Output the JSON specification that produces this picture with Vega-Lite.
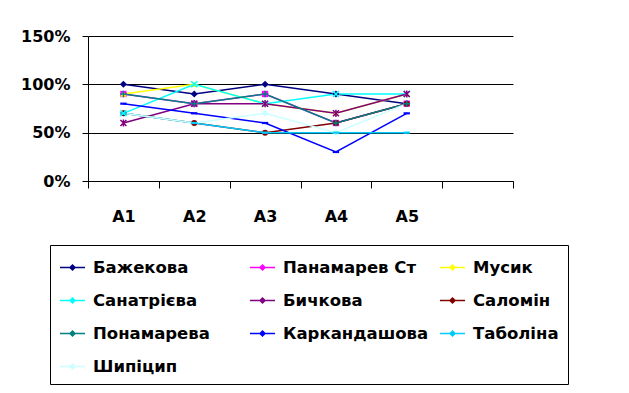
{
  "$schema": "https://vega.github.io/schema/vega-lite/v6.json",
  "autosize": "none",
  "width": 425,
  "height": 145,
  "padding": {"left": 88, "top": 36, "right": 116, "bottom": 212},
  "background": "white",
  "config": {
    "font": "DejaVu Sans",
    "view": {"stroke": null},
    "axis": {"labelFont": "DejaVu Sans", "labelFontWeight": "bold", "labelFontSize": 16, "labelColor": "black", "domainColor": "black", "tickColor": "black", "gridColor": "black", "gridOpacity": 1, "domainWidth": 1, "tickWidth": 1, "gridWidth": 1}
  },
  "data": {"values": [
    {"s": "Бажекова", "a": "A1", "v": 1.0}, {"s": "Бажекова", "a": "A2", "v": 0.9}, {"s": "Бажекова", "a": "A3", "v": 1.0}, {"s": "Бажекова", "a": "A4", "v": 0.9}, {"s": "Бажекова", "a": "A5", "v": 0.8},
    {"s": "Панамарев Ст", "a": "A1", "v": 0.9}, {"s": "Панамарев Ст", "a": "A2", "v": 0.8}, {"s": "Панамарев Ст", "a": "A3", "v": 0.9}, {"s": "Панамарев Ст", "a": "A4", "v": 0.6}, {"s": "Панамарев Ст", "a": "A5", "v": 0.8},
    {"s": "Мусик", "a": "A1", "v": 0.9}, {"s": "Мусик", "a": "A2", "v": 1.0}, {"s": "Мусик", "a": "A3", "v": 0.8}, {"s": "Мусик", "a": "A4", "v": 0.7}, {"s": "Мусик", "a": "A5", "v": 0.9},
    {"s": "Санатрієва", "a": "A1", "v": 0.7}, {"s": "Санатрієва", "a": "A2", "v": 1.0}, {"s": "Санатрієва", "a": "A3", "v": 0.8}, {"s": "Санатрієва", "a": "A4", "v": 0.9}, {"s": "Санатрієва", "a": "A5", "v": 0.9},
    {"s": "Бичкова", "a": "A1", "v": 0.6}, {"s": "Бичкова", "a": "A2", "v": 0.8}, {"s": "Бичкова", "a": "A3", "v": 0.8}, {"s": "Бичкова", "a": "A4", "v": 0.7}, {"s": "Бичкова", "a": "A5", "v": 0.9},
    {"s": "Саломін", "a": "A1", "v": 0.7}, {"s": "Саломін", "a": "A2", "v": 0.6}, {"s": "Саломін", "a": "A3", "v": 0.5}, {"s": "Саломін", "a": "A4", "v": 0.6}, {"s": "Саломін", "a": "A5", "v": 0.8},
    {"s": "Понамарева", "a": "A1", "v": 0.9}, {"s": "Понамарева", "a": "A2", "v": 0.8}, {"s": "Понамарева", "a": "A3", "v": 0.9}, {"s": "Понамарева", "a": "A4", "v": 0.6}, {"s": "Понамарева", "a": "A5", "v": 0.8},
    {"s": "Каркандашова", "a": "A1", "v": 0.8}, {"s": "Каркандашова", "a": "A2", "v": 0.7}, {"s": "Каркандашова", "a": "A3", "v": 0.6}, {"s": "Каркандашова", "a": "A4", "v": 0.3}, {"s": "Каркандашова", "a": "A5", "v": 0.7},
    {"s": "Таболіна", "a": "A1", "v": 0.7}, {"s": "Таболіна", "a": "A2", "v": 0.6}, {"s": "Таболіна", "a": "A3", "v": 0.5}, {"s": "Таболіна", "a": "A4", "v": 0.5}, {"s": "Таболіна", "a": "A5", "v": 0.5},
    {"s": "Шипіцип", "a": "A1", "v": 0.7}, {"s": "Шипіцип", "a": "A2", "v": 0.6}, {"s": "Шипіцип", "a": "A3", "v": 0.7}, {"s": "Шипіцип", "a": "A4", "v": 0.5}, {"s": "Шипіцип", "a": "A5", "v": 0.8}
  ]},
  "encoding": {
    "x": {"field": "a", "type": "nominal", "bandPosition": 0.5,
      "scale": {"type": "band", "domain": ["A1", "A2", "A3", "A4", "A5", "A6"], "paddingInner": 0, "paddingOuter": 0},
      "axis": {"title": null, "labelAngle": 0, "tickBand": "extent", "tickSize": 7, "labelPadding": 20, "grid": false,
        "labelExpr": "datum.value == 'A6' ? '' : datum.value"}},
    "y": {"field": "v", "type": "quantitative",
      "scale": {"domain": [0, 1.5], "nice": false, "zero": true},
      "axis": {"title": null, "values": [0, 0.5, 1, 1.5], "format": "%", "tickSize": 6, "labelPadding": 12, "grid": true}},
    "color": {"field": "s", "type": "nominal",
      "scale": {"domain": ["Бажекова", "Панамарев Ст", "Мусик", "Санатрієва", "Бичкова", "Саломін", "Понамарева", "Каркандашова", "Таболіна", "Шипіцип"],
        "range": ["#000080", "#FF00FF", "#FFFF00", "#00FFFF", "#800080", "#800000", "#008080", "#0000FF", "#00CCFF", "#CCFFFF"]},
      "legend": {"title": null, "orient": "none", "legendX": -38, "legendY": 209, "direction": "horizontal", "columns": 3,
        "gridAlign": "all", "columnPadding": 8, "rowPadding": 11, "padding": 9,
        "strokeColor": "black", "fillColor": "white",
        "symbolType": "M-1,0H1M-0.2,0L0,-0.2L0.2,0L0,0.2Z", "symbolSize": 625, "symbolStrokeWidth": 1.5, "symbolFillColor": "transparent",
        "labelFont": "DejaVu Sans", "labelFontWeight": "bold", "labelFontSize": 16.5, "labelColor": "black", "labelOffset": 7, "labelLimit": 300}}
  },
  "layer": [
    {"mark": {"type": "line", "strokeWidth": 1.5}, "encoding": {"order": {"field": "a"}}},
    {"transform": [{"filter": "datum.s == 'Бажекова' || datum.s == 'Шипіцип'"}],
     "mark": {"type": "point", "filled": true, "shape": "diamond", "size": 50, "opacity": 1}},
    {"transform": [{"filter": "datum.s == 'Панамарев Ст'"}],
     "mark": {"type": "point", "filled": true, "shape": "square", "size": 40, "opacity": 1}},
    {"transform": [{"filter": "datum.s == 'Мусик'"}],
     "mark": {"type": "point", "filled": true, "shape": "triangle-up", "size": 40, "opacity": 1}},
    {"transform": [{"filter": "datum.s == 'Саломін'"}],
     "mark": {"type": "point", "filled": true, "shape": "circle", "size": 36, "opacity": 1}},
    {"transform": [{"filter": "datum.s == 'Каркандашова' || datum.s == 'Таболіна'"}],
     "mark": {"type": "point", "filled": true, "shape": "M-1,-0.35H1V0.35H-1Z", "size": 40, "opacity": 1}},
    {"transform": [{"filter": "datum.s == 'Санатрієва'"}],
     "mark": {"type": "point", "filled": false, "shape": "M-1,-1L1,1M-1,1L1,-1", "size": 36, "strokeWidth": 1.5, "opacity": 1}},
    {"transform": [{"filter": "datum.s == 'Бичкова'"}],
     "mark": {"type": "point", "filled": false, "shape": "M-1,-1L1,1M-1,1L1,-1M0,-1.2V1.2", "size": 36, "strokeWidth": 1.5, "opacity": 1}},
    {"transform": [{"filter": "datum.s == 'Понамарева'"}],
     "mark": {"type": "point", "filled": false, "shape": "M-1,0H1M0,-1V1", "size": 40, "strokeWidth": 1.5, "opacity": 1}}
  ]
}
